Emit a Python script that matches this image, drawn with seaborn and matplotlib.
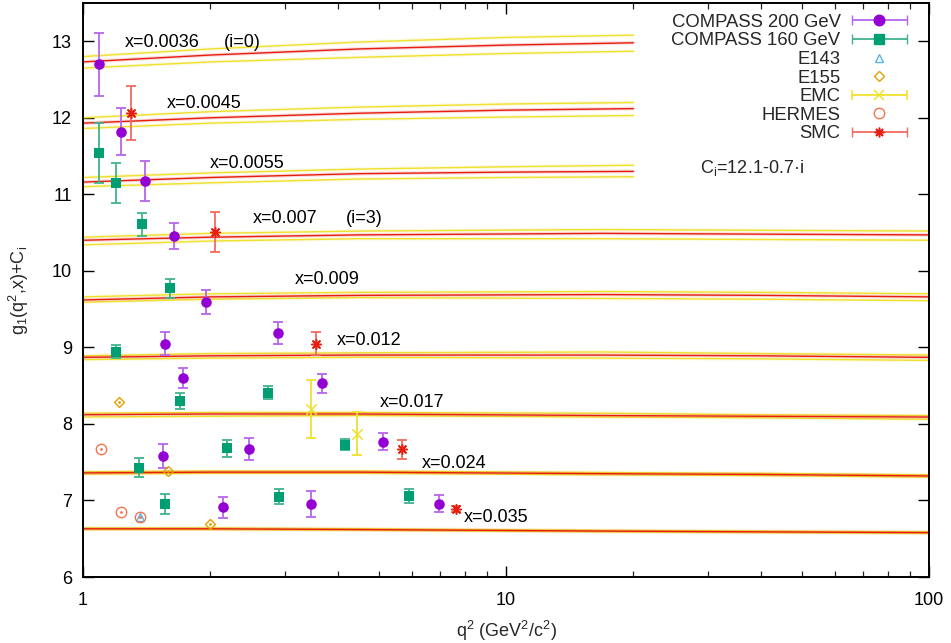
import numpy as np
import pandas as pd
import matplotlib
matplotlib.use("Agg")
import matplotlib.pyplot as plt
import seaborn as sns
from matplotlib.ticker import FixedLocator, FuncFormatter, NullFormatter
from matplotlib.container import ErrorbarContainer
from matplotlib.legend_handler import HandlerErrorbar
from matplotlib.lines import Line2D

# ---------------- data ----------------
# evolution curves (q^2 knots) and values: central fit, upper and lower bound
Q2_SHORT = [1.0, 2.0, 4.5, 10.0, 20.0]          # bands i = 0..2
Q2_LONG = [1.0, 2.0, 4.5, 17.0, 40.0, 100.0]    # bands i = 3..8

CURVE_MID = [
    [12.73, 12.82, 12.90, 12.95, 12.98],
    [11.93, 12.00, 12.06, 12.10, 12.12],
    [11.16, 11.22, 11.27, 11.29, 11.30],
    [10.40, 10.44, 10.47, 10.49, 10.48, 10.47],
    [9.62, 9.66, 9.68, 9.69, 9.68, 9.66],
    [8.87, 8.89, 8.90, 8.90, 8.89, 8.87],
    [8.12, 8.13, 8.13, 8.11, 8.10, 8.09],
    [7.36, 7.37, 7.37, 7.35, 7.34, 7.32],
    [6.63, 6.63, 6.62, 6.60, 6.59, 6.58],
]
CURVE_UP = [
    [12.80, 12.90, 12.99, 13.05, 13.08],
    [12.00, 12.08, 12.14, 12.18, 12.20],
    [11.22, 11.28, 11.33, 11.36, 11.38],
    [10.44, 10.49, 10.52, 10.54, 10.53, 10.52],
    [9.66, 9.70, 9.72, 9.73, 9.72, 9.70],
    [8.89, 8.92, 8.93, 8.94, 8.92, 8.90],
    [8.14, 8.15, 8.15, 8.14, 8.12, 8.11],
    [7.375, 7.385, 7.385, 7.365, 7.355, 7.335],
    [6.64, 6.64, 6.63, 6.61, 6.60, 6.59],
]
CURVE_LO = [
    [12.65, 12.73, 12.79, 12.84, 12.87],
    [11.86, 11.93, 11.98, 12.01, 12.03],
    [11.10, 11.15, 11.20, 11.22, 11.23],
    [10.34, 10.39, 10.42, 10.42, 10.41, 10.40],
    [9.59, 9.63, 9.65, 9.64, 9.63, 9.61],
    [8.84, 8.86, 8.87, 8.86, 8.85, 8.83],
    [8.09, 8.10, 8.11, 8.09, 8.08, 8.06],
    [7.345, 7.355, 7.355, 7.335, 7.325, 7.305],
    [6.62, 6.62, 6.61, 6.59, 6.58, 6.57],
]

BAND_LABELS = ["x=0.0036", "x=0.0045", "x=0.0055", "x=0.007", "x=0.009",
               "x=0.012", "x=0.017", "x=0.024", "x=0.035"]
LABEL_Q2 = [1.257, 1.58, 1.997, 2.52, 3.17, 3.99, 5.04, 6.32, 7.96]
LABEL_Y = [12.99, 12.19, 11.40, 10.69, 9.89, 9.085, 8.28, 7.486, 6.78]
INDEX_LABELS = ["(i=0)", "(i=3)"]
INDEX_Q2 = [2.155, 4.19]
INDEX_Y = [12.99, 10.69]

# measurements
C200_Q2 = [1.093, 1.23, 1.40, 1.64, 1.954, 1.563, 2.895, 1.72, 3.67, 1.548, 2.464, 5.11, 2.143, 3.465, 6.94]
C200_Y = [12.70, 11.82, 11.17, 10.46, 9.59, 9.05, 9.19, 8.60, 8.53, 7.58, 7.67, 7.77, 6.91, 6.954, 6.96]
C200_ERR = [0.41, 0.31, 0.26, 0.17, 0.16, 0.15, 0.14, 0.13, 0.12, 0.155, 0.14, 0.11, 0.135, 0.165, 0.11]

C160_Q2 = [1.093, 1.20, 1.38, 1.609, 1.20, 1.70, 2.74, 1.356, 2.194, 4.17, 1.565, 2.91, 5.91]
C160_Y = [11.54, 11.15, 10.61, 9.77, 8.945, 8.30, 8.41, 7.43, 7.68, 7.73, 6.954, 7.05, 7.06]
C160_ERR = [0.39, 0.26, 0.15, 0.12, 0.09, 0.10, 0.085, 0.12, 0.115, 0.07, 0.125, 0.10, 0.09]

SMC_Q2 = [1.30, 2.055, 3.555, 5.68, 7.60]
SMC_Y = [12.06, 10.51, 9.05, 7.67, 6.89]
SMC_ERR = [0.35, 0.26, 0.155, 0.125, 0.04]

EMC_Q2 = [3.454, 4.44]
EMC_Y = [8.19, 7.87]
EMC_ERR = [0.38, 0.28]

E143_Q2 = [1.364]
E143_Y = [6.78]

E155_Q2 = [1.214, 1.585, 2.0]
E155_Y = [8.29, 7.38, 6.69]

HERMES_Q2 = [1.103, 1.23, 1.364]
HERMES_Y = [7.67, 6.85, 6.78]

# ---------------- style ----------------
sns.set_theme(style="ticks")
plt.rcParams['font.family'] = ['Liberation Sans', 'DejaVu Sans']
plt.rcParams['mathtext.fontset'] = 'custom'
plt.rcParams['mathtext.rm'] = 'Liberation Sans'
plt.rcParams['mathtext.it'] = 'Liberation Sans'
plt.rcParams['mathtext.default'] = 'regular'

FS = 13
PURPLE = '#9400d3'
GREEN = '#009e73'
BLUE = '#56b4e9'
ORANGE = '#e69f00'
YELLOW = '#f0e030'
CORAL = '#f47550'
RED = '#e51e10'
PURPLE_E = (0.72, 0.40, 0.92)
GREEN_E = (0.25, 0.70, 0.55)
RED_E = (0.95, 0.42, 0.38)

fig = plt.figure(figsize=(9.51, 6.43), dpi=100)
ax = fig.add_axes([83 / 951, 1 - 577 / 643, (929 - 83) / 951, (577 - 3) / 643])
ax.set_facecolor('white')

# ---------------- curves ----------------
for i in range(len(CURVE_MID)):
    q = Q2_SHORT if i < 3 else Q2_LONG
    for vals, col in ((CURVE_UP[i], YELLOW), (CURVE_LO[i], YELLOW), (CURVE_MID[i], RED)):
        df = pd.DataFrame({'q2': q, 'g': vals})
        sns.lineplot(data=df, x='q2', y='g', ax=ax, color=col, lw=2.6, alpha=0.16,
                     estimator=None, sort=False, legend=False)
        sns.lineplot(data=df, x='q2', y='g', ax=ax, color=col, lw=1.0,
                     estimator=None, sort=False, legend=False)

# ---------------- measurements ----------------
def err_points(qs, ys, es, color, ecolor, marker, ms, mfc=None, mew=1.0):
    ax.errorbar(qs, ys, yerr=es, fmt='none', ecolor=ecolor, elinewidth=1.3,
                capsize=3.6, capthick=1.3, zorder=4)
    sns.scatterplot(x=qs, y=ys, ax=ax, marker=marker, s=ms ** 2,
                    color=color if mfc is None else mfc, edgecolor=color,
                    linewidth=mew, zorder=5, legend=False)

err_points(C200_Q2, C200_Y, C200_ERR, PURPLE, PURPLE_E, 'o', 7.6, mew=0)
err_points(C160_Q2, C160_Y, C160_ERR, GREEN, GREEN_E, 's', 7.0, mew=0)
err_points(SMC_Q2, SMC_Y, SMC_ERR, RED, RED_E, (8, 2, 0), 7.0, mew=1.1)
err_points(EMC_Q2, EMC_Y, EMC_ERR, YELLOW, YELLOW, 'x', 7.5, mew=1.1)

for qs, ys, col, mk, ms in ((E143_Q2, E143_Y, BLUE, '^', 6.0),
                            (E155_Q2, E155_Y, ORANGE, 'D', 5.5),
                            (HERMES_Q2, HERMES_Y, CORAL, 'o', 7.5)):
    ax.plot(qs, ys, ls='none', marker=mk, ms=ms, mfc='none', mec=col, mew=1.0, zorder=5)
    ax.plot(qs, ys, ls='none', marker='.', ms=2.0, color=col, zorder=5)

# ---------------- texts ----------------
for t, xq, yv in zip(BAND_LABELS, LABEL_Q2, LABEL_Y):
    ax.text(xq, yv, t, fontsize=FS, ha='left', va='center', color='black')
for t, xq, yv in zip(INDEX_LABELS, INDEX_Q2, INDEX_Y):
    ax.text(xq, yv, t, fontsize=FS, ha='left', va='center', color='black')
ax.text(0.729, 0.7125, r'C$_i$=12.1-0.7·i', transform=ax.transAxes, fontsize=FS,
        ha='left', va='center')

# ---------------- axes ----------------
ax.set_xscale('log')
ax.set_xlim(1, 100)
ax.set_ylim(6, 13.5)
ax.xaxis.set_major_locator(FixedLocator([1, 10, 100]))
ax.xaxis.set_major_formatter(FuncFormatter(lambda v, _: f"{v:g}"))
ax.xaxis.set_minor_locator(FixedLocator([k * d for d in (1, 10) for k in range(2, 10)]))
ax.xaxis.set_minor_formatter(NullFormatter())
ax.yaxis.set_major_locator(FixedLocator(list(range(6, 14))))
ax.tick_params(axis='both', which='major', direction='in', length=8, width=1.0,
               top=True, right=True, labelsize=FS, pad=8, colors='black')
ax.tick_params(axis='x', which='major', pad=11)
ax.tick_params(axis='x', which='minor', direction='in', length=4.5, width=0.9,
               top=True, bottom=True)
ax.tick_params(axis='y', which='minor', left=False, right=False)
for sp in ax.spines.values():
    sp.set_linewidth(1.4)
    sp.set_color('black')
    sp.set_visible(True)
ax.grid(False)

ax.set_xlabel(r'q$^2$ (GeV$^2$/c$^2$)', fontsize=FS, labelpad=7)
ax.set_ylabel(r'g$_1$(q$^2$,x)+C$_i$', fontsize=FS, labelpad=15)

# ---------------- legend ----------------
h200 = ax.errorbar([np.nan], [np.nan], xerr=[np.nan], fmt='o', color=PURPLE, ms=7.6,
                   ecolor=PURPLE_E, elinewidth=1.3, capsize=3.6)
h160 = ax.errorbar([np.nan], [np.nan], xerr=[np.nan], fmt='s', color=GREEN, ms=7.0,
                   ecolor=GREEN_E, elinewidth=1.3, capsize=3.6)
h143 = Line2D([], [], ls='none', marker='^', ms=6, mfc='none', mec=BLUE)
h155 = Line2D([], [], ls='none', marker='D', ms=5.5, mfc='none', mec=ORANGE)
hemc = ax.errorbar([np.nan], [np.nan], xerr=[np.nan], fmt='x', color=YELLOW, ms=7.5, mew=1.1,
                   ecolor=YELLOW, elinewidth=1.3, capsize=3.6)
hher = Line2D([], [], ls='none', marker='o', ms=7.5, mfc='none', mec=CORAL)
hsmc = ax.errorbar([np.nan], [np.nan], xerr=[np.nan], fmt='none', ecolor=RED_E,
                   elinewidth=1.3, capsize=3.6)
hsmc_m = Line2D([], [], ls='none', marker=(8, 2, 0), ms=7, mec=RED, mew=1.1)

handles = [h200, h160, h143, h155, hemc, hher, (hsmc, hsmc_m)]
labels = ['COMPASS 200 GeV', 'COMPASS 160 GeV', 'E143', 'E155', 'EMC', 'HERMES', 'SMC']
leg = ax.legend(handles, labels, loc='upper right', bbox_to_anchor=(0.974, 0.981),
                frameon=False, markerfirst=False, fontsize=13.3, handlelength=3.0,
                handletextpad=0.6, labelspacing=0.085, borderpad=0, borderaxespad=0,
                handler_map={ErrorbarContainer: HandlerErrorbar(xerr_size=1.5)})

fig.savefig('out.png', dpi=100, facecolor='white')
